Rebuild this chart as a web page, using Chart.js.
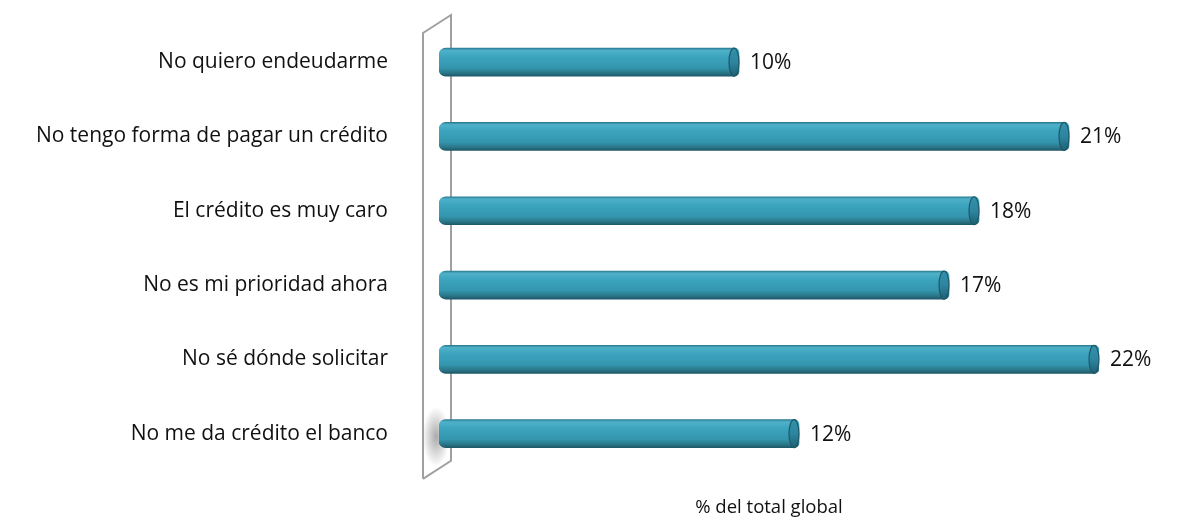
<!DOCTYPE html>
<html lang="es">
<head>
<meta charset="utf-8">
<title>Motivos para no solicitar crédito</title>
<script src="https://cdn.jsdelivr.net/npm/chart.js@4/dist/chart.umd.min.js"></script>
<style>
  html, body { margin: 0; padding: 0; background: #fff; }
</style>
</head>
<body>
<canvas id="motivosChart" width="1177" height="521"></canvas>
<script>
// Data
const categories = [
    'No quiero endeudarme',
    'No tengo forma de pagar un crédito',
    'El crédito es muy caro',
    'No es mi prioridad ahora',
    'No sé dónde solicitar',
    'No me da crédito el banco'
];
const percentages = [10, 21, 18, 17, 22, 12];
const axisTitle = '% del total global';

const FONT = "'Open Sans', sans-serif";
const BAR_H = 28;

// Cylinder shading for each bar, built from the y scale position
function barGradient(context) {
    const chart = context.chart;
    const yScale = chart.scales.y;
    if (!yScale) return '#3a9fb8';
    const c = yScale.getPixelForValue(context.dataIndex);
    if (!Number.isFinite(c)) return '#3a9fb8';
    const g = chart.ctx.createLinearGradient(0, c - BAR_H / 2, 0, c + BAR_H / 2);
    g.addColorStop(0, '#2b7d92');
    g.addColorStop(0.08, '#4fb1c9');
    g.addColorStop(0.3, '#3ca4be');
    g.addColorStop(0.7, '#3496ae');
    g.addColorStop(0.88, '#2a7789');
    g.addColorStop(1, '#1e5968');
    return g;
}

// Slanted back wall behind the bars
const wallPlugin = {
    id: 'wall',
    beforeDatasetsDraw(chart) {
        const { ctx, chartArea } = chart;
        const xr = chartArea.left + 12;
        const xl = xr - 28;
        const top = chartArea.top - 10;
        const bottom = chartArea.bottom - 10;
        ctx.save();
        // soft shadow on the wall near the lowest bar (elliptical)
        const sy = chart.scales.y.getPixelForValue(categories.length - 1);
        ctx.save();
        ctx.beginPath();
        ctx.rect(xl + 1, sy - 35, 27, 70);
        ctx.clip();
        ctx.translate(xl + 13, sy + 3);
        ctx.scale(0.45, 1);
        const rg = ctx.createRadialGradient(0, 0, 1, 0, 0, 30);
        rg.addColorStop(0, 'rgba(130,130,130,0.65)');
        rg.addColorStop(1, 'rgba(130,130,130,0)');
        ctx.fillStyle = rg;
        ctx.fillRect(-40, -35, 80, 70);
        ctx.restore();

        ctx.strokeStyle = '#a0a0a0';
        ctx.lineWidth = 2;
        ctx.beginPath();
        ctx.moveTo(xl, bottom + 18);
        ctx.lineTo(xl, top + 18);
        ctx.lineTo(xr, top);
        ctx.lineTo(xr, bottom);
        ctx.lineTo(xl, bottom + 18);
        ctx.stroke();
        ctx.restore();
    }
};

// End caps and value labels
const capsPlugin = {
    id: 'caps',
    afterDatasetsDraw(chart) {
        const { ctx } = chart;
        const meta = chart.getDatasetMeta(0);
        ctx.save();
        meta.data.forEach((bar, i) => {
            const rx = 5;
            const ry = BAR_H / 2;
            const cx = bar.x - rx;
            const g = ctx.createLinearGradient(0, bar.y - ry, 0, bar.y + ry);
            g.addColorStop(0, '#3490aa');
            g.addColorStop(0.5, '#2d85a0');
            g.addColorStop(1, '#1f6072');
            ctx.beginPath();
            ctx.ellipse(cx, bar.y, rx, ry, 0, 0, Math.PI * 2);
            ctx.fillStyle = g;
            ctx.fill();
            ctx.lineWidth = 1.2;
            ctx.strokeStyle = '#1d5868';
            ctx.stroke();

            ctx.fillStyle = '#111';
            ctx.font = '21px ' + FONT;
            ctx.textAlign = 'left';
            ctx.textBaseline = 'middle';
            ctx.fillText(percentages[i] + '%', bar.x + 11, bar.y + 1);
        });
        ctx.restore();
    }
};

const ctxMotivos = document.getElementById('motivosChart').getContext('2d');
const motivosChart = new Chart(ctxMotivos, {
    type: 'bar',
    data: {
        labels: categories,
        datasets: [{
            data: percentages,
            backgroundColor: barGradient,
            borderWidth: 0,
            borderSkipped: false,
            borderRadius: { topLeft: 7, bottomLeft: 7, topRight: 5, bottomRight: 5 },
            barThickness: BAR_H
        }]
    },
    options: {
        indexAxis: 'y',
        responsive: false,
        animation: false,
        devicePixelRatio: 1,
        layout: { padding: { top: 25, right: 78, bottom: 2, left: 0 } },
        plugins: {
            legend: { display: false },
            tooltip: { enabled: false }
        },
        scales: {
            x: {
                min: 0,
                max: 22,
                grid: { display: false, drawTicks: false },
                border: { display: false },
                ticks: { display: false },
                title: {
                    display: true,
                    text: axisTitle,
                    color: '#111',
                    font: { family: FONT, size: 18.5 },
                    padding: { top: 26, bottom: 0 }
                }
            },
            y: {
                grid: { display: false, drawTicks: false },
                border: { display: false },
                ticks: {
                    color: '#111',
                    font: { family: FONT, size: 21 },
                    padding: 51
                },
                afterFit(scale) {
                    scale.width = 439;
                    scale.paddingTop = 0;
                    scale.paddingBottom = 0;
                }
            }
        }
    },
    plugins: [wallPlugin, capsPlugin]
});
</script>
</body>
</html>
